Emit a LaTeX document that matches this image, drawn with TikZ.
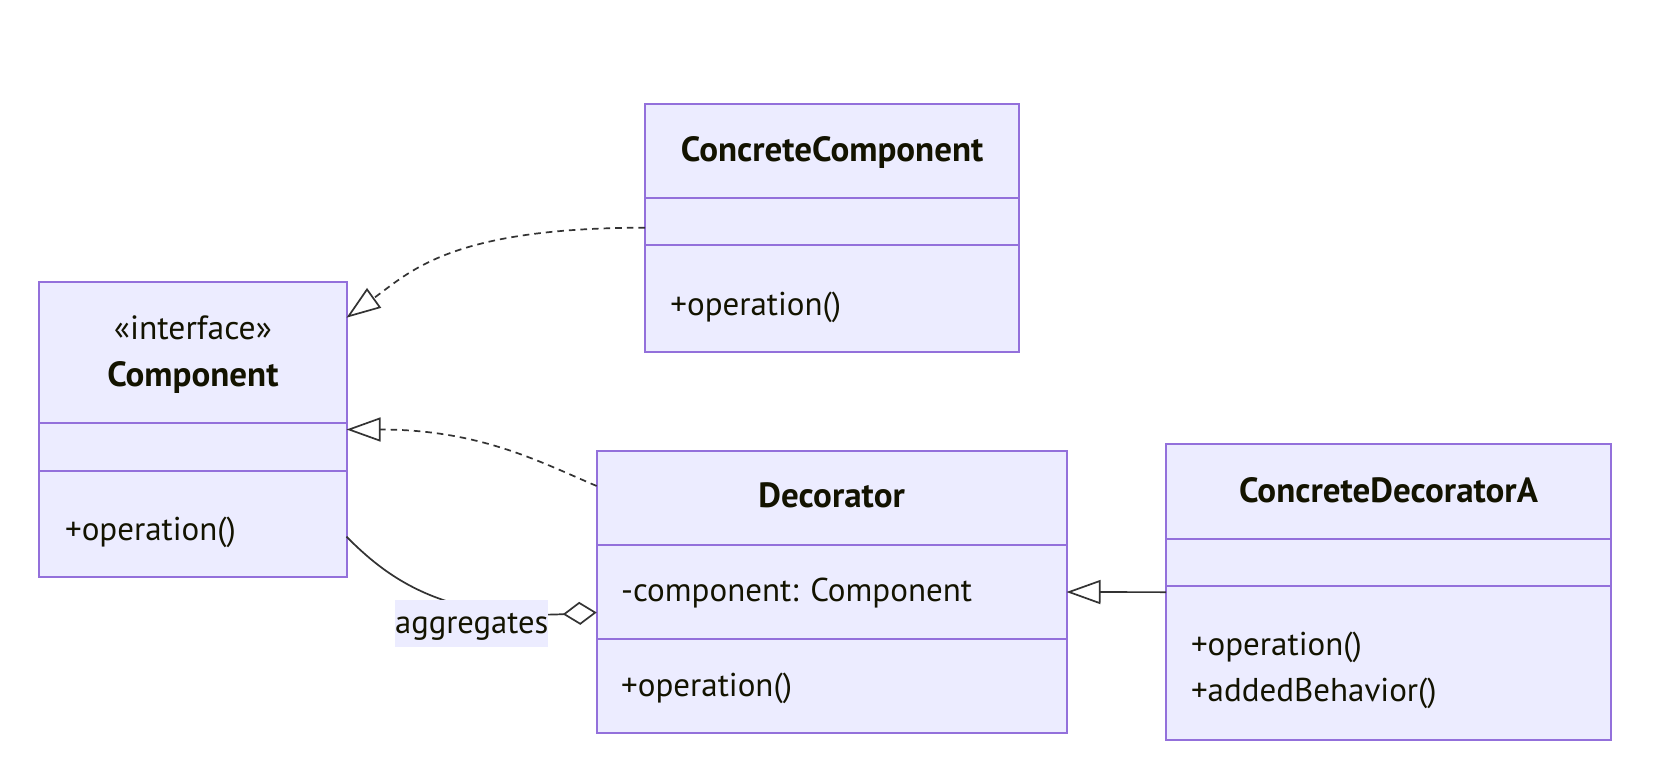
\documentclass[tikz,border=0pt]{standalone}
\usepackage{fontspec}
\setmainfont{PT Sans}
\usetikzlibrary{arrows.meta}
\definecolor{boxfill}{HTML}{ECECFF}
\definecolor{boxline}{HTML}{9370DB}
\definecolor{edgecol}{HTML}{333333}
\definecolor{txtcol}{HTML}{131300}
\begin{document}
\begin{tikzpicture}[x=0.5pt,y=-0.5pt,
  classbox/.style={draw=boxline, fill=boxfill, line width=1pt, inner sep=0pt, outer sep=0pt},
  divider/.style={draw=boxline, line width=1pt},
  titletext/.style={font=\fontsize{17.5pt}{21pt}\selectfont\bfseries, text=txtcol, inner sep=0pt, anchor=base},
  stereotext/.style={font=\fontsize{16.8pt}{20pt}\selectfont, text=txtcol, inner sep=0pt, anchor=base},
  membertext/.style={font=\fontsize{16.5pt}{20pt}\selectfont, text=txtcol, inner sep=0pt, anchor=base west},
  edgelbl/.style={fill=boxfill, font=\fontsize{16.3pt}{20pt}\selectfont, text=txtcol, inner sep=0pt,
    minimum width=76pt, minimum height=23.35pt, text height=12pt, text depth=2pt},
  realize/.style={draw=edgecol, line width=0.85pt, dash pattern=on 3.3pt off 2.5pt,
    -{Triangle[open, length=17pt, width=12pt]}},
  inherit/.style={draw=edgecol, line width=0.85pt, -{Triangle[open, length=17pt, width=12pt]}},
  aggreg/.style={draw=edgecol, line width=0.85pt, -{Diamond[open, length=17pt, width=11.5pt]}}
]
\fill[white] (0,0) rectangle (1664,776);
\useasboundingbox (0,0) rectangle (1664,776);

% Component
\node[classbox, minimum width=153.6pt, minimum height=147.8pt] (comp) at (192.9,429.5) {};
\draw[divider] ([yshift=-70.8pt]comp.north west) -- ([yshift=-70.8pt]comp.north east);
\draw[divider] ([yshift=-94.5pt]comp.north west) -- ([yshift=-94.5pt]comp.north east);
\node[stereotext] (compster) at (192.9,339.3) {«interface»};
\node[titletext] (comptitle) at (192.9,386.7) {Component};
\node[membertext] (compop) at (64.7,540) {+operation()};

% ConcreteComponent
\node[classbox, minimum width=187.15pt, minimum height=124pt] (cc) at (832.15,227.7) {};
\draw[divider] ([yshift=-47.15pt]cc.north west) -- ([yshift=-47.15pt]cc.north east);
\draw[divider] ([yshift=-70.65pt]cc.north west) -- ([yshift=-70.65pt]cc.north east);
\node[titletext] (cctitle) at (832.15,161.7) {ConcreteComponent};
\node[membertext] (ccop) at (670,315) {+operation()};

% Decorator
\node[classbox, minimum width=234.9pt, minimum height=141.3pt] (dec) at (831.6,592) {};
\draw[divider] ([yshift=-47.15pt]dec.north west) -- ([yshift=-47.15pt]dec.north east);
\draw[divider] ([yshift=-94.3pt]dec.north west) -- ([yshift=-94.3pt]dec.north east);
\node[titletext] (dectitle) at (831.6,507.3) {Decorator};
\node[membertext] (decattr) at (620.8,601.7) {-component: Component};
\node[membertext] (decop) at (620.8,696) {+operation()};

% ConcreteDecoratorA
\node[classbox, minimum width=222.5pt, minimum height=147.85pt] (cda) at (1388.5,592.15) {};
\draw[divider] ([yshift=-47.2pt]cda.north west) -- ([yshift=-47.2pt]cda.north east);
\draw[divider] ([yshift=-70.85pt]cda.north west) -- ([yshift=-70.85pt]cda.north east);
\node[titletext] (cdatitle) at (1388.5,502.7) {ConcreteDecoratorA};
\node[membertext] (cdaop) at (1190.6,655) {+operation()};
\node[membertext] (cdaadd) at (1190.6,701.7) {+addedBehavior()};

% Connectors
\draw[realize] (cc.west) .. controls +(-195,0) and +(63.7,-45.7) .. ([yshift=55.9pt]comp.east);
\draw[realize] ([yshift=53pt]dec.west) .. controls +(-56.7,-24) and +(133.3,0) .. (comp.east);
\draw[aggreg] ([yshift=-53.6pt]comp.east) .. controls +(38.3,38.3) and +(-156.7,7.8) .. ([yshift=-10.25pt]dec.west);
\draw[inherit] (cda.west) -- (dec.east);
\node[edgelbl] (agglbl) at (471.7,623.3) {aggregates};
\end{tikzpicture}
\end{document}
